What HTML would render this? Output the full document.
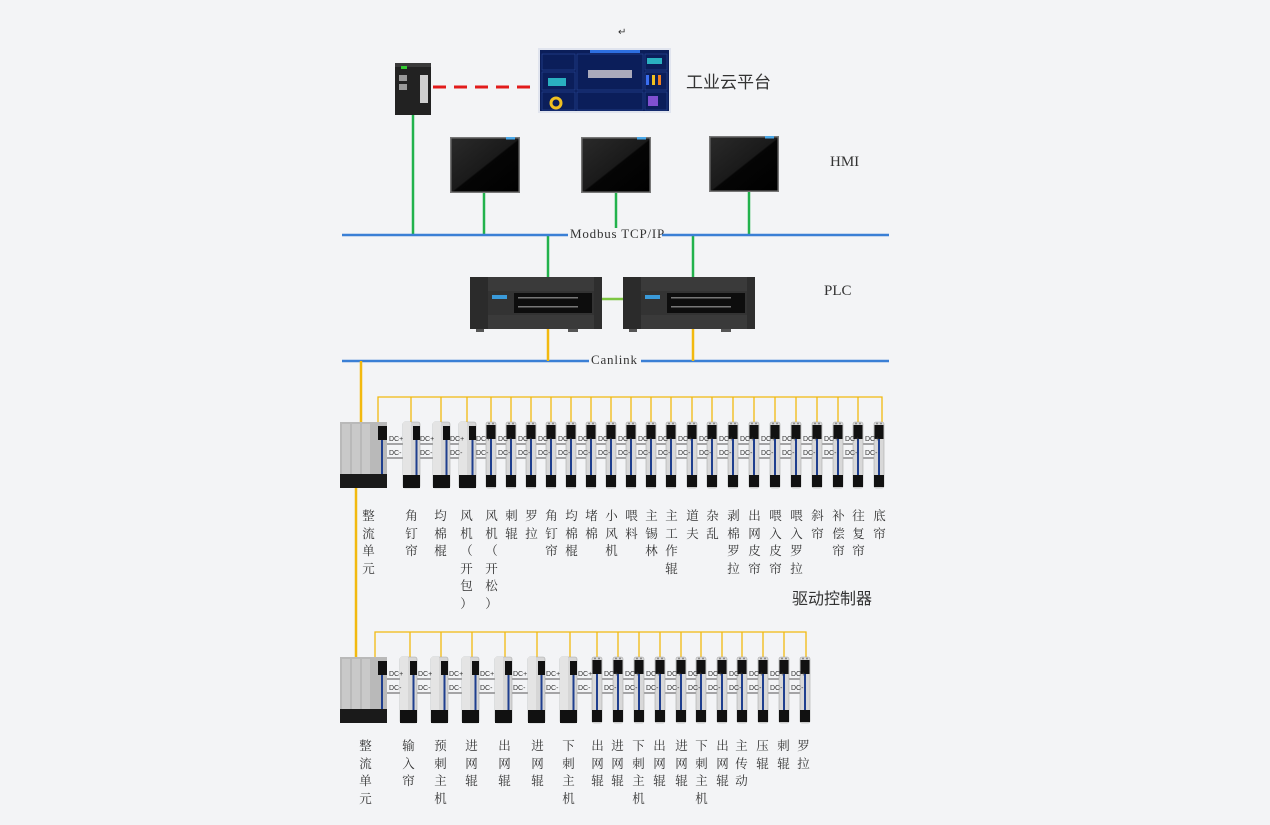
<!DOCTYPE html>
<html><head><meta charset="utf-8"><style>
html,body{margin:0;padding:0;background:#f3f4f6;}
#w{position:relative;width:1270px;height:825px;overflow:hidden;background:#f3f4f6;font-family:"Liberation Serif","Noto Serif CJK SC",serif;}
svg{position:absolute;left:0;top:0;}
.l{position:absolute;width:13px;font-size:12.5px;line-height:17.5px;color:#333;text-align:center;font-family:"Liberation Serif","Noto Serif CJK SC",serif;word-break:break-all;}
.t{position:absolute;color:#333;white-space:nowrap;}
</style></head><body><div id="w">
<svg width="1270" height="825" viewBox="0 0 1270 825">
<defs>
<linearGradient id="hg" x1="0" y1="0" x2="1" y2="1"><stop offset="0" stop-color="#2a2a2a"/><stop offset="0.5" stop-color="#1a1a1a"/><stop offset="0.52" stop-color="#050505"/><stop offset="1" stop-color="#000"/></linearGradient>
<g id="nd">
<rect x="-5" y="0" width="10" height="66" rx="2" fill="#d8d8d8" stroke="#aaa" stroke-width="0.6"/>
<rect x="-4.5" y="3" width="9" height="14" fill="#111"/>
<rect x="-1" y="17" width="2" height="36" fill="#1f3f8f"/>
<rect x="-5" y="53" width="10" height="12" fill="#111"/>
<circle cx="-2" cy="1.5" r="1" fill="#888"/><circle cx="2" cy="1.5" r="1" fill="#888"/>
</g>
<g id="wd">
<rect x="-8" y="0" width="17" height="66" rx="2" fill="#d6d6d6" stroke="#aaa" stroke-width="0.6"/>
<rect x="-8" y="0" width="8" height="66" fill="#e4e4e4"/>
<rect x="2" y="4" width="7" height="14" fill="#111"/>
<rect x="4.5" y="18" width="2" height="35" fill="#1f3f8f"/>
<rect x="-8" y="53" width="17" height="13" fill="#111"/>
</g>
<g id="rc">
<rect x="0" y="0" width="47" height="66" fill="#b9b9b9"/>
<rect x="2" y="2" width="8" height="52" fill="#c9c9c9"/><rect x="12" y="2" width="8" height="52" fill="#c9c9c9"/><rect x="22" y="2" width="8" height="52" fill="#c9c9c9"/>
<rect x="38" y="4" width="9" height="14" fill="#111"/>
<rect x="41" y="18" width="2" height="35" fill="#1f3f8f"/>
<rect x="0" y="52" width="47" height="14" fill="#1a1a1a"/>
</g>
<g id="hmi">
<rect x="0" y="0" width="70" height="56" fill="#777"/>
<rect x="1.5" y="1.5" width="67" height="53" fill="url(#hg)"/>
<rect x="56" y="0" width="9" height="2.5" fill="#4aa8e8"/>
</g>
<g id="plc">
<rect x="0" y="0" width="132" height="52" fill="#3a3a3a"/>
<rect x="0" y="0" width="18" height="52" fill="#2b2b2b"/>
<rect x="18" y="14" width="110" height="24" fill="#333"/>
<rect x="44" y="16" width="78" height="20" fill="#0d0d0d"/>
<rect x="22" y="18" width="15" height="4" fill="#3a9ad9"/>
<rect x="124" y="0" width="8" height="52" fill="#2e2e2e"/>
<rect x="48" y="20" width="60" height="1.5" fill="#777"/><rect x="48" y="29" width="60" height="1.5" fill="#777"/>
<rect x="6" y="52" width="8" height="3" fill="#555"/><rect x="98" y="52" width="10" height="3" fill="#555"/>
</g>
</defs>
<line x1="433" y1="87" x2="538" y2="87" stroke="#e21b1b" stroke-width="3" stroke-dasharray="13,8"/>
<g stroke="#22b24c" stroke-width="2.5">
<line x1="413" y1="115" x2="413" y2="235"/><line x1="484" y1="192" x2="484" y2="235"/><line x1="616" y1="192" x2="616" y2="229"/><line x1="749" y1="191" x2="749" y2="235"/>
<line x1="548" y1="235" x2="548" y2="278"/><line x1="693" y1="235" x2="693" y2="278"/>
<line x1="601" y1="299" x2="623" y2="299" stroke="#7dc642"/>
</g>
<line x1="342" y1="235" x2="889" y2="235" stroke="#3a7fd5" stroke-width="2.5"/>
<line x1="342" y1="361" x2="889" y2="361" stroke="#3a7fd5" stroke-width="2.5"/>
<rect x="568" y="228" width="94" height="14" fill="#f3f4f6"/>
<rect x="589" y="354" width="52" height="14" fill="#f3f4f6"/>
<g stroke="#f2b90f" stroke-width="2.5" fill="none">
<line x1="548" y1="329" x2="548" y2="361"/><line x1="693" y1="329" x2="693" y2="361"/>
<line x1="361" y1="361" x2="361" y2="422"/>
<line x1="356" y1="487" x2="356" y2="657"/>
</g>
<g stroke="#f2b90f" stroke-width="1.3" fill="none">
<polyline points="378,422 378,397 882,397 882,422"/>
<line x1="411" y1="397" x2="411" y2="422"/><line x1="441" y1="397" x2="441" y2="422"/><line x1="467" y1="397" x2="467" y2="422"/><line x1="491" y1="397" x2="491" y2="422"/><line x1="511" y1="397" x2="511" y2="422"/><line x1="531" y1="397" x2="531" y2="422"/><line x1="551" y1="397" x2="551" y2="422"/><line x1="571" y1="397" x2="571" y2="422"/><line x1="591" y1="397" x2="591" y2="422"/><line x1="611" y1="397" x2="611" y2="422"/><line x1="631" y1="397" x2="631" y2="422"/><line x1="651" y1="397" x2="651" y2="422"/><line x1="671" y1="397" x2="671" y2="422"/><line x1="692" y1="397" x2="692" y2="422"/><line x1="712" y1="397" x2="712" y2="422"/><line x1="733" y1="397" x2="733" y2="422"/><line x1="754" y1="397" x2="754" y2="422"/><line x1="775" y1="397" x2="775" y2="422"/><line x1="796" y1="397" x2="796" y2="422"/><line x1="817" y1="397" x2="817" y2="422"/><line x1="838" y1="397" x2="838" y2="422"/><line x1="858" y1="397" x2="858" y2="422"/>
<polyline points="375,657 375,632 806,632 806,657"/>
<line x1="410" y1="632" x2="410" y2="657"/><line x1="441" y1="632" x2="441" y2="657"/><line x1="472" y1="632" x2="472" y2="657"/><line x1="505" y1="632" x2="505" y2="657"/><line x1="537" y1="632" x2="537" y2="657"/><line x1="570" y1="632" x2="570" y2="657"/><line x1="597" y1="632" x2="597" y2="657"/><line x1="618" y1="632" x2="618" y2="657"/><line x1="639" y1="632" x2="639" y2="657"/><line x1="660" y1="632" x2="660" y2="657"/><line x1="681" y1="632" x2="681" y2="657"/><line x1="701" y1="632" x2="701" y2="657"/><line x1="722" y1="632" x2="722" y2="657"/><line x1="742" y1="632" x2="742" y2="657"/><line x1="763" y1="632" x2="763" y2="657"/><line x1="784" y1="632" x2="784" y2="657"/>
</g>
<g stroke="#555" stroke-width="1">
<line x1="387" y1="444" x2="876" y2="444"/><line x1="387" y1="458" x2="876" y2="458"/>
<line x1="387" y1="679" x2="800" y2="679"/><line x1="387" y1="693" x2="800" y2="693"/>
</g>
<rect x="395" y="63" width="36" height="52" fill="#222"/>
<rect x="395" y="63" width="36" height="4" fill="#3a3a3a"/>
<rect x="420" y="75" width="8" height="28" fill="#cfcfcf"/>
<rect x="399" y="75" width="8" height="6" fill="#999"/><rect x="399" y="84" width="8" height="6" fill="#999"/>
<rect x="401" y="66" width="6" height="3" fill="#3c3"/>
<rect x="538" y="48" width="133" height="65" fill="#e0e4ee"/>
<rect x="540" y="50" width="129" height="61" fill="#0b1e5a"/>
<g fill="none" stroke="#2a4a9a" stroke-width="0.6"><rect x="542" y="54" width="33" height="16"/><rect x="542" y="72" width="33" height="18"/><rect x="542" y="92" width="33" height="18"/><rect x="577" y="54" width="66" height="36"/><rect x="577" y="92" width="66" height="18"/><rect x="645" y="54" width="22" height="16"/><rect x="645" y="72" width="22" height="18"/><rect x="645" y="92" width="22" height="18"/></g>
<rect x="590" y="50" width="50" height="3" fill="#2d6fe0"/>
<rect x="588" y="70" width="44" height="8" fill="#aab"/>
<circle cx="556" cy="103" r="5" fill="none" stroke="#f0c020" stroke-width="3"/>
<rect x="646" y="75" width="3" height="10" fill="#3a6ef0"/><rect x="652" y="75" width="3" height="10" fill="#f0c020"/><rect x="658" y="75" width="3" height="10" fill="#f08020"/>
<rect x="548" y="78" width="18" height="8" fill="#2ab0c0"/>
<rect x="647" y="58" width="15" height="6" fill="#2ab0c0"/>
<rect x="648" y="96" width="10" height="10" fill="#8050d0"/>
<use href="#hmi" x="450" y="137"/><use href="#hmi" x="581" y="137"/><use href="#hmi" x="709" y="136"/>
<use href="#plc" x="470" y="277"/><use href="#plc" x="623" y="277"/>
<use href="#rc" x="340" y="422"/>
<use href="#wd" x="411" y="422"/><use href="#wd" x="441" y="422"/><use href="#wd" x="467" y="422"/>
<use href="#nd" x="491" y="422"/><use href="#nd" x="511" y="422"/><use href="#nd" x="531" y="422"/><use href="#nd" x="551" y="422"/><use href="#nd" x="571" y="422"/><use href="#nd" x="591" y="422"/><use href="#nd" x="611" y="422"/><use href="#nd" x="631" y="422"/><use href="#nd" x="651" y="422"/><use href="#nd" x="671" y="422"/><use href="#nd" x="692" y="422"/><use href="#nd" x="712" y="422"/><use href="#nd" x="733" y="422"/><use href="#nd" x="754" y="422"/><use href="#nd" x="775" y="422"/><use href="#nd" x="796" y="422"/><use href="#nd" x="817" y="422"/><use href="#nd" x="838" y="422"/><use href="#nd" x="858" y="422"/><use href="#nd" x="879" y="422"/>
<use href="#rc" x="340" y="657"/>
<use href="#wd" x="408" y="657"/><use href="#wd" x="439" y="657"/><use href="#wd" x="470" y="657"/><use href="#wd" x="503" y="657"/><use href="#wd" x="536" y="657"/><use href="#wd" x="568" y="657"/>
<use href="#nd" x="597" y="657"/><use href="#nd" x="618" y="657"/><use href="#nd" x="639" y="657"/><use href="#nd" x="660" y="657"/><use href="#nd" x="681" y="657"/><use href="#nd" x="701" y="657"/><use href="#nd" x="722" y="657"/><use href="#nd" x="742" y="657"/><use href="#nd" x="763" y="657"/><use href="#nd" x="784" y="657"/><use href="#nd" x="805" y="657"/>
<g font-family="Liberation Sans, sans-serif" font-size="7" fill="#333">
<text x="389" y="441">DC+</text><text x="389" y="455">DC-</text>
<text x="420" y="441">DC+</text><text x="420" y="455">DC-</text>
<text x="450" y="441">DC+</text><text x="450" y="455">DC-</text>
<text x="476" y="441">DC+</text><text x="476" y="455">DC-</text>
<text x="498" y="441">DC+</text><text x="498" y="455">DC-</text>
<text x="518" y="441">DC+</text><text x="518" y="455">DC-</text>
<text x="538" y="441">DC+</text><text x="538" y="455">DC-</text>
<text x="558" y="441">DC+</text><text x="558" y="455">DC-</text>
<text x="578" y="441">DC+</text><text x="578" y="455">DC-</text>
<text x="598" y="441">DC+</text><text x="598" y="455">DC-</text>
<text x="618" y="441">DC+</text><text x="618" y="455">DC-</text>
<text x="638" y="441">DC+</text><text x="638" y="455">DC-</text>
<text x="658" y="441">DC+</text><text x="658" y="455">DC-</text>
<text x="678" y="441">DC+</text><text x="678" y="455">DC-</text>
<text x="699" y="441">DC+</text><text x="699" y="455">DC-</text>
<text x="719" y="441">DC+</text><text x="719" y="455">DC-</text>
<text x="740" y="441">DC+</text><text x="740" y="455">DC-</text>
<text x="761" y="441">DC+</text><text x="761" y="455">DC-</text>
<text x="782" y="441">DC+</text><text x="782" y="455">DC-</text>
<text x="803" y="441">DC+</text><text x="803" y="455">DC-</text>
<text x="824" y="441">DC+</text><text x="824" y="455">DC-</text>
<text x="845" y="441">DC+</text><text x="845" y="455">DC-</text>
<text x="865" y="441">DC+</text><text x="865" y="455">DC-</text>
<text x="389" y="676">DC+</text><text x="389" y="690">DC-</text>
<text x="418" y="676">DC+</text><text x="418" y="690">DC-</text>
<text x="449" y="676">DC+</text><text x="449" y="690">DC-</text>
<text x="480" y="676">DC+</text><text x="480" y="690">DC-</text>
<text x="513" y="676">DC+</text><text x="513" y="690">DC-</text>
<text x="546" y="676">DC+</text><text x="546" y="690">DC-</text>
<text x="578" y="676">DC+</text><text x="578" y="690">DC-</text>
<text x="604" y="676">DC+</text><text x="604" y="690">DC-</text>
<text x="625" y="676">DC+</text><text x="625" y="690">DC-</text>
<text x="646" y="676">DC+</text><text x="646" y="690">DC-</text>
<text x="667" y="676">DC+</text><text x="667" y="690">DC-</text>
<text x="688" y="676">DC+</text><text x="688" y="690">DC-</text>
<text x="708" y="676">DC+</text><text x="708" y="690">DC-</text>
<text x="729" y="676">DC+</text><text x="729" y="690">DC-</text>
<text x="749" y="676">DC+</text><text x="749" y="690">DC-</text>
<text x="770" y="676">DC+</text><text x="770" y="690">DC-</text>
<text x="791" y="676">DC+</text><text x="791" y="690">DC-</text>
</g>
</svg>
<div class="t" style="left:618px;top:27px;font-size:10px;">↵</div>
<div class="t" style="left:686px;top:68px;font-size:17px;font-family:'Liberation Sans','Noto Sans CJK SC',sans-serif;">工业云平台</div>
<div class="t" style="left:830px;top:154px;font-size:15px;">HMI</div>
<div class="t" style="left:824px;top:283px;font-size:15px;">PLC</div>
<div class="t" style="left:570px;top:226px;font-size:13px;letter-spacing:0.8px;">Modbus TCP/IP</div>
<div class="t" style="left:591px;top:352px;font-size:13px;letter-spacing:0.8px;">Canlink</div>
<div class="t" style="left:792px;top:585px;font-size:16px;font-family:'Liberation Sans','Noto Sans CJK SC',sans-serif;">驱动控制器</div>
<div class="l" style="left:362px;top:508px;">整流单元</div>
<div class="l" style="left:405px;top:508px;">角钉帘</div>
<div class="l" style="left:434px;top:508px;">均棉棍</div>
<div class="l" style="left:460px;top:508px;">风<br>机<br>（<br>开<br>包<br>）</div>
<div class="l" style="left:485px;top:508px;">风<br>机<br>（<br>开<br>松<br>）</div>
<div class="l" style="left:505px;top:508px;">刺辊</div>
<div class="l" style="left:525px;top:508px;">罗拉</div>
<div class="l" style="left:545px;top:508px;">角钉帘</div>
<div class="l" style="left:565px;top:508px;">均棉棍</div>
<div class="l" style="left:585px;top:508px;">堵棉</div>
<div class="l" style="left:605px;top:508px;">小风机</div>
<div class="l" style="left:625px;top:508px;">喂料</div>
<div class="l" style="left:645px;top:508px;">主锡林</div>
<div class="l" style="left:665px;top:508px;">主工作辊</div>
<div class="l" style="left:686px;top:508px;">道夫</div>
<div class="l" style="left:706px;top:508px;">杂乱</div>
<div class="l" style="left:727px;top:508px;">剥棉罗拉</div>
<div class="l" style="left:748px;top:508px;">出网皮帘</div>
<div class="l" style="left:769px;top:508px;">喂入皮帘</div>
<div class="l" style="left:790px;top:508px;">喂入罗拉</div>
<div class="l" style="left:811px;top:508px;">斜帘</div>
<div class="l" style="left:832px;top:508px;">补偿帘</div>
<div class="l" style="left:852px;top:508px;">往复帘</div>
<div class="l" style="left:873px;top:508px;">底帘</div>
<div class="l" style="left:359px;top:738px;">整流单元</div>
<div class="l" style="left:402px;top:738px;">输入帘</div>
<div class="l" style="left:434px;top:738px;">预刺主机</div>
<div class="l" style="left:465px;top:738px;">进网辊</div>
<div class="l" style="left:498px;top:738px;">出网辊</div>
<div class="l" style="left:531px;top:738px;">进网辊</div>
<div class="l" style="left:562px;top:738px;">下刺主机</div>
<div class="l" style="left:591px;top:738px;">出网辊</div>
<div class="l" style="left:611px;top:738px;">进网辊</div>
<div class="l" style="left:632px;top:738px;">下刺主机</div>
<div class="l" style="left:653px;top:738px;">出网辊</div>
<div class="l" style="left:675px;top:738px;">进网辊</div>
<div class="l" style="left:695px;top:738px;">下刺主机</div>
<div class="l" style="left:716px;top:738px;">出网辊</div>
<div class="l" style="left:735px;top:738px;">主传动</div>
<div class="l" style="left:756px;top:738px;">压辊</div>
<div class="l" style="left:777px;top:738px;">刺辊</div>
<div class="l" style="left:797px;top:738px;">罗拉</div>
</div></body></html>
